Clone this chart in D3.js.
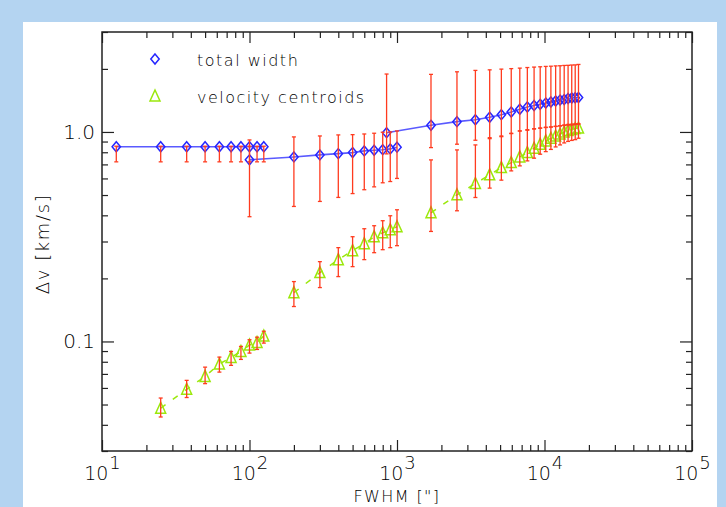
<!DOCTYPE html>
<html lang="en">
<head>
<meta charset="utf-8">
<title>Delta v vs FWHM</title>
<script src="https://cdn.jsdelivr.net/npm/d3@7"></script>
<style>
body { margin: 0; background: #b4d4f1; }
svg { display: block; }
text { font-family: "DejaVu Sans", sans-serif; font-weight: 200; fill: #000; }
</style>
</head>
<body>
<script>
var w = 726;
var h = 507;

// ---- data ----
// total width, three runs
var twX1 = [12.5, 25, 37.5, 50, 62.5, 75, 87.5, 100, 112.5, 125];
var twY1 = [0.85, 0.85, 0.85, 0.85, 0.85, 0.85, 0.85, 0.85, 0.85, 0.85];
var twHi1 = [0.855, 0.855, 0.855, 0.855, 0.855, 0.855, 0.855, 0.855, 0.855, 0.855];
var twLo1 = [0.72, 0.72, 0.72, 0.72, 0.72, 0.72, 0.72, 0.72, 0.72, 0.72];

var twX2 = [100, 200, 300, 400, 500, 600, 700, 800, 900, 1000];
var twY2 = [0.736, 0.760, 0.777, 0.788, 0.797, 0.812, 0.818, 0.823, 0.830, 0.846];
var twHi2 = [0.916, 0.947, 0.957, 0.968, 0.971, 0.978, 0.986, 0.997, 1.0, 1.011];
var twLo2 = [0.394, 0.441, 0.466, 0.487, 0.508, 0.530, 0.547, 0.572, 0.580, 0.600];

var twX3 = [850, 1700, 2550, 3400, 4250, 5100, 5950, 6800, 7650, 8500, 9350, 10200, 11050, 11900, 12750, 13600, 14450, 15300, 16150, 17000];
var twY3 = [0.992, 1.076, 1.12, 1.144, 1.175, 1.209, 1.245, 1.283, 1.316, 1.337, 1.355, 1.374, 1.390, 1.405, 1.420, 1.428, 1.444, 1.452, 1.457, 1.46];
var twHi3 = [1.89, 1.883, 1.937, 1.967, 1.979, 1.995, 2.006, 2.017, 2.03, 2.04, 2.047, 2.055, 2.06, 2.067, 2.07, 2.077, 2.08, 2.087, 2.09, 2.10];
var twLo3 = [0.786, 0.842, 0.874, 0.913, 0.939, 0.957, 0.982, 1.011, 1.019, 1.033, 1.041, 1.05, 1.056, 1.064, 1.071, 1.08, 1.086, 1.089, 1.092, 1.095];

// velocity centroids, three runs
var vcX1 = [25, 37.5, 50, 62.5, 75, 87.5, 100, 112.5, 125];
var vcY1 = [0.0480, 0.0591, 0.0681, 0.0781, 0.0839, 0.0896, 0.0962, 0.0989, 0.1062];
var vcHi1 = [0.0537, 0.0652, 0.0754, 0.0842, 0.0896, 0.0947, 0.1019, 0.1048, 0.1119];
var vcLo1 = [0.0436, 0.0540, 0.0629, 0.0714, 0.0769, 0.0821, 0.0880, 0.0916, 0.0982];

var vcX2 = [200, 300, 400, 500, 600, 700, 800, 900, 1000];
var vcY2 = [0.171, 0.2131, 0.2458, 0.2713, 0.2929, 0.3162, 0.3304, 0.3415, 0.3529];
var vcHi2 = [0.1931, 0.2404, 0.2804, 0.3162, 0.3452, 0.3568, 0.3770, 0.3981, 0.4251];
var vcLo2 = [0.1468, 0.1808, 0.2040, 0.2276, 0.2458, 0.2653, 0.2742, 0.2804, 0.2865];

var vcX3 = [1700, 2550, 3400, 4250, 5100, 5950, 6800, 7650, 8500, 9350, 10200, 11050, 11900, 12750, 13600, 14450, 15300, 16150, 17000];
var vcY3 = [0.4114, 0.5012, 0.5674, 0.6241, 0.6761, 0.7142, 0.7603, 0.7969, 0.8364, 0.8738, 0.9061, 0.9333, 0.9571, 0.9783, 1.0, 1.0166, 1.028, 1.039, 1.045];
var vcHi3 = [0.7356, 0.8209, 0.8672, 0.9292, 0.9497, 0.9858, 1.011, 1.0256, 1.0368, 1.0448, 1.0529, 1.0563, 1.0621, 1.068, 1.0739, 1.0775, 1.0798, 1.0857, 1.0882];
var vcLo3 = [0.3351, 0.4205, 0.4866, 0.5394, 0.5888, 0.6519, 0.6889, 0.7277, 0.7496, 0.7830, 0.8057, 0.8254, 0.8483, 0.8672, 0.8864, 0.9012, 0.9111, 0.9190, 0.9333];

var xMajor = [10, 100, 1000, 10000, 100000];
var xExp = ["1", "2", "3", "4", "5"];
var yMajor = [0.1, 1.0];
var yLabels = ["0.1", "1.0"];
var legendNames = ["total width", "velocity centroids"];

function pts(xs, ys, hi, lo) {
	return xs.map(function(d, i) { return {x: d, y: ys[i], hi: hi[i], lo: lo[i]}; });
}
var twRuns = [pts(twX1, twY1, twHi1, twLo1), pts(twX2, twY2, twHi2, twLo2), pts(twX3, twY3, twHi3, twLo3)];
var vcRuns = [pts(vcX1, vcY1, vcHi1, vcLo1), pts(vcX2, vcY2, vcHi2, vcLo2), pts(vcX3, vcY3, vcHi3, vcLo3)];

var blue = "#2626ff";
var blueLine = "#5a5aff";
var red = "#ff3b1f";
var green = "#9be80c";
var ink = "#222";

var svg = d3.select("body").append("svg")
	.attr("width", w)
	.attr("height", h);

svg.append("rect")
	.attr("x", 0).attr("y", 0)
	.attr("width", w).attr("height", h)
	.attr("fill", "#b4d4f1");

svg.append("rect")
	.attr("x", 23).attr("y", 22)
	.attr("width", 694).attr("height", h - 22)
	.attr("fill", "white");

var pLeft = 102, pRight = 692, pTop = 32, pBottom = 451;

var x = d3.scaleLog().domain([10, 1e5]).range([pLeft, pRight]);
var y = d3.scaleLog().domain([0.03, 3]).range([pBottom, pTop]);

function isMajor(v) {
	var l = Math.log10(v);
	return Math.abs(l - Math.round(l)) < 1e-9;
}
var xMinor = x.ticks().filter(function(d) { return !isMajor(d); });
var yMinor = y.ticks().filter(function(d) { return !isMajor(d); });

// ---- axes, ticks pointing inward on all four sides ----
function styleAxis(g) {
	g.select(".domain").remove();
	g.selectAll("line").attr("stroke", ink).attr("stroke-width", 1.2);
}

svg.append("g").attr("transform", "translate(0," + pBottom + ")")
	.call(d3.axisBottom(x).tickValues(xMinor).tickSize(-6).tickFormat(""))
	.call(styleAxis);
svg.append("g").attr("transform", "translate(0," + pTop + ")")
	.call(d3.axisTop(x).tickValues(xMinor).tickSize(-6).tickFormat(""))
	.call(styleAxis);
svg.append("g").attr("transform", "translate(0," + pTop + ")")
	.call(d3.axisTop(x).tickValues(xMajor).tickSize(-11).tickFormat(""))
	.call(styleAxis);

var xAx = svg.append("g").attr("transform", "translate(0," + pBottom + ")")
	.call(d3.axisBottom(x).tickValues(xMajor).tickSize(-11).tickPadding(0))
	.call(styleAxis);
xAx.selectAll("text")
	.attr("y", 29)
	.attr("dy", null)
	.attr("font-size", 19)
	.attr("font-family", "DejaVu Sans, sans-serif")
	.attr("font-weight", 200)
	.attr("fill", "#000")
	.each(function(d, i) {
		var t = d3.select(this).text("");
		t.append("tspan").text("10");
		t.append("tspan").attr("dy", -11).attr("dx", 1).attr("font-size", 18).text(xExp[i]);
	});

svg.append("g").attr("transform", "translate(" + pLeft + ",0)")
	.call(d3.axisLeft(y).tickValues(yMinor).tickSize(-6).tickFormat(""))
	.call(styleAxis);
svg.append("g").attr("transform", "translate(" + pRight + ",0)")
	.call(d3.axisRight(y).tickValues(yMinor).tickSize(-6).tickFormat(""))
	.call(styleAxis);
svg.append("g").attr("transform", "translate(" + pRight + ",0)")
	.call(d3.axisRight(y).tickValues(yMajor).tickSize(-12).tickFormat(""))
	.call(styleAxis);

var yAx = svg.append("g").attr("transform", "translate(" + pLeft + ",0)")
	.call(d3.axisLeft(y).tickValues(yMajor).tickSize(-12).tickPadding(7)
		.tickFormat(function(d, i) { return yLabels[i]; }))
	.call(styleAxis);
yAx.selectAll("text")
	.attr("font-size", 20)
	.attr("font-family", "DejaVu Sans, sans-serif")
	.attr("font-weight", 200)
	.attr("fill", "#000");

svg.append("rect")
	.attr("x", pLeft).attr("y", pTop)
	.attr("width", pRight - pLeft).attr("height", pBottom - pTop)
	.attr("fill", "none")
	.attr("stroke", ink)
	.attr("stroke-width", 1.5);

// axis titles
svg.append("text")
	.attr("x", (pLeft + pRight) / 2)
	.attr("y", 502)
	.attr("text-anchor", "middle")
	.attr("font-size", 16)
	.attr("letter-spacing", 1.4)
	.text("FWHM [\"]");

svg.append("text")
	.attr("transform", "translate(49,244) rotate(-90)")
	.attr("text-anchor", "middle")
	.attr("font-size", 18)
	.attr("letter-spacing", 1.6)
	.text("\u0394v [km/s]");

// ---- lines ----
var line = d3.line()
	.x(function(d) { return x(d.x); })
	.y(function(d) { return y(d.y); });

svg.selectAll("path.tw")
	.data(twRuns)
	.enter()
	.append("path")
	.attr("class", "tw")
	.attr("d", line)
	.attr("fill", "none")
	.attr("stroke", blueLine)
	.attr("stroke-width", 1.6);

svg.selectAll("path.vc")
	.data(vcRuns)
	.enter()
	.append("path")
	.attr("class", "vc")
	.attr("d", line)
	.attr("fill", "none")
	.attr("stroke", green)
	.attr("stroke-width", 1.5)
	.attr("stroke-dasharray", "6,9");

// ---- markers ----
function diamond(cx, cy) {
	return "M" + cx + "," + (cy - 5) + "L" + (cx + 4.2) + "," + cy + "L" + cx + "," + (cy + 5) + "L" + (cx - 4.2) + "," + cy + "Z";
}
function triangle(cx, cy) {
	return "M" + cx + "," + (cy - 6) + "L" + (cx + 5) + "," + (cy + 5) + "L" + (cx - 5) + "," + (cy + 5) + "Z";
}

var twAll = d3.merge(twRuns);
var vcAll = d3.merge(vcRuns);

svg.selectAll("path.dia")
	.data(twAll)
	.enter()
	.append("path")
	.attr("class", "dia")
	.attr("d", function(d) { return diamond(x(d.x), y(d.y)); })
	.attr("fill", "none")
	.attr("stroke", blue)
	.attr("stroke-width", 1.5);

svg.selectAll("path.tri")
	.data(vcAll)
	.enter()
	.append("path")
	.attr("class", "tri")
	.attr("d", function(d) { return triangle(x(d.x), y(d.y)); })
	.attr("fill", "none")
	.attr("stroke", green)
	.attr("stroke-width", 1.5);

// ---- error bars ----
var allBars = twAll.concat(vcAll);
var bars = svg.selectAll("g.err")
	.data(allBars)
	.enter()
	.append("g")
	.attr("class", "err")
	.attr("stroke", red)
	.attr("stroke-width", 1.3);

bars.append("line")
	.attr("x1", function(d) { return x(d.x); })
	.attr("x2", function(d) { return x(d.x); })
	.attr("y1", function(d) { return y(d.hi); })
	.attr("y2", function(d) { return y(d.lo); });
bars.append("line")
	.attr("x1", function(d) { return x(d.x) - 2; })
	.attr("x2", function(d) { return x(d.x) + 2; })
	.attr("y1", function(d) { return y(d.hi); })
	.attr("y2", function(d) { return y(d.hi); });
bars.append("line")
	.attr("x1", function(d) { return x(d.x) - 2; })
	.attr("x2", function(d) { return x(d.x) + 2; })
	.attr("y1", function(d) { return y(d.lo); })
	.attr("y2", function(d) { return y(d.lo); });

// ---- legend ----
svg.append("path")
	.attr("d", diamond(155, 59))
	.attr("fill", "none")
	.attr("stroke", blue)
	.attr("stroke-width", 1.5);
svg.append("path")
	.attr("d", triangle(155, 96))
	.attr("fill", "none")
	.attr("stroke", green)
	.attr("stroke-width", 1.5);

svg.selectAll("text.leg")
	.data(legendNames)
	.enter()
	.append("text")
	.attr("class", "leg")
	.attr("x", 197)
	.attr("y", function(d, i) { return 66 + i * 37; })
	.attr("font-size", 16)
	.attr("letter-spacing", 1.5)
	.text(function(d) { return d; });
</script>
</body>
</html>
